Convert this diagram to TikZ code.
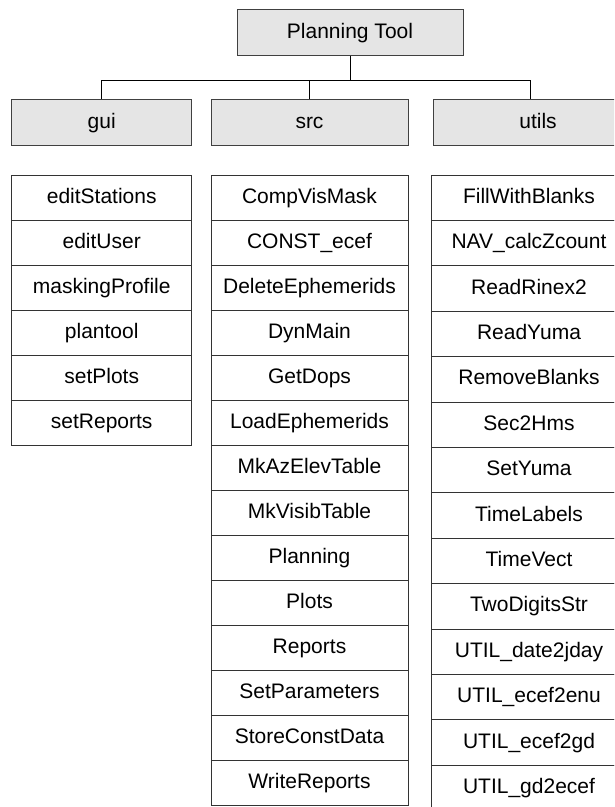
\documentclass[tikz,border=0pt]{standalone}
\usepackage{fontspec}
\setmainfont{Liberation Sans}
\tikzset{
  hdr/.style={draw=black!75, fill=black!10, line width=0.9pt, minimum height=45.5pt, inner sep=0pt,
    text height=15pt, text depth=4pt, font=\fontsize{21}{24}\selectfont},
  item/.style={draw=black!80, fill=white, line width=0.9pt, inner sep=0pt,
    text height=15pt, text depth=4pt, font=\fontsize{21}{24}\selectfont},
  conn/.style={draw=black, line width=0.9pt}
}
\begin{document}
\begin{tikzpicture}[x=1pt,y=-1pt]
\useasboundingbox (0,0) rectangle (614,807);
\clip (0,0) rectangle (614,807);
% headers
\node[hdr, minimum width=226pt] (pt) at (350,32.5) {Planning Tool};
\node[hdr, minimum width=180pt] (gui) at (101.7,122.5) {gui};
\node[hdr, minimum width=197pt] (src) at (309.5,122.5) {src};
\node[hdr, minimum width=210pt] (utils) at (538,122.5) {utils};
% connectors
\coordinate (j) at (350,80.5);
\coordinate (ju) at (530,80.5);
\draw[conn] (pt.south) -- (j);
\draw[conn] (gui.north) |- (ju) -- (ju |- utils.north);
\draw[conn] (j -| src.north) -- (src.north);
% gui list
\foreach \t [count=\i] in {editStations,editUser,maskingProfile,plantool,setPlots,setReports}
  \node[item, minimum width=180pt, minimum height=45pt] (g\i) at (101.7,{175+45*\i-22.5}) {\t};
% src list
\foreach \t [count=\i] in {CompVisMask,CONST\_ecef,DeleteEphemerids,DynMain,GetDops,LoadEphemerids,MkAzElevTable,MkVisibTable,Planning,Plots,Reports,SetParameters,StoreConstData,WriteReports}
  \node[item, minimum width=197pt, minimum height=45pt] (s\i) at (309.5,{175+45*\i-22.5}) {\t};
% utils list (cut off at the right edge)
\foreach \t [count=\i] in {FillWithBlanks,NAV\_calcZcount,ReadRinex2,ReadYuma,RemoveBlanks,Sec2Hms,SetYuma,TimeLabels,TimeVect,TwoDigitsStr,UTIL\_date2jday,UTIL\_ecef2enu,UTIL\_ecef2gd,UTIL\_gd2ecef}
  \node[item, minimum width=210pt, minimum height=45.4pt, text width=196pt, align=center] (u\i) at (536,{175+45.4*\i-22.7}) {\hspace*{-14pt}\t};
\end{tikzpicture}
\end{document}
